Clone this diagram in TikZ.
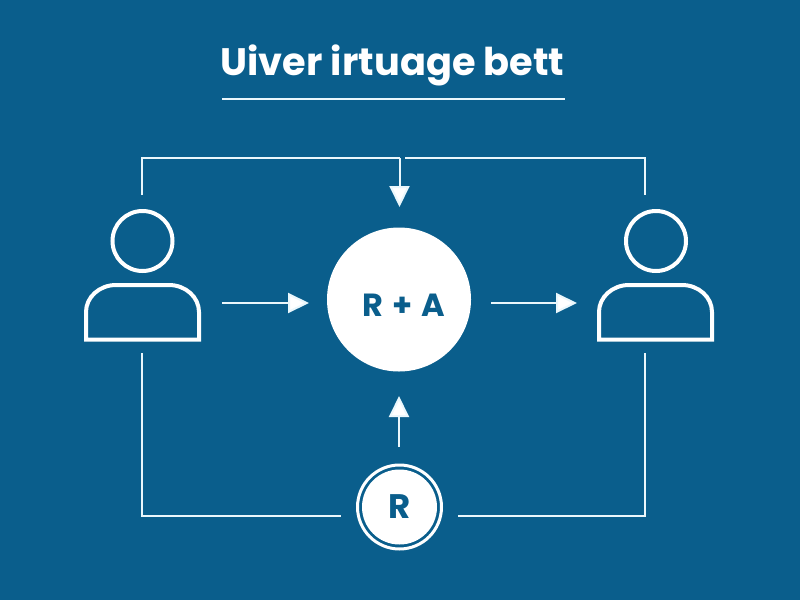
\documentclass[tikz,border=0pt]{standalone}
\usepackage{fontspec}
\setmainfont{Poppins}
\usetikzlibrary{arrows.meta,calc}
\definecolor{bg}{HTML}{0A5E8C}
\definecolor{ink}{HTML}{EAF7FC}
\tikzset{
  x=1pt,y=-1pt,
  wire/.style={draw=ink,line width=2pt},
  flow/.style={wire,-{Triangle[length=21pt,width=20pt,fill=white]}},
  icon/.style={draw=white,line width=4pt,line join=miter},
  head/.style={circle,icon,minimum size=60pt,inner sep=0pt},
  hub/.style={circle,fill=white,minimum size=144pt,inner sep=0pt,text=bg,font=\bfseries\fontsize{32}{32}\selectfont},
  ringdisc/.style={circle,fill=white,minimum size=75pt,inner sep=0pt,text=bg,font=\bfseries\fontsize{34}{34}\selectfont},
  ringout/.style={circle,draw=white,line width=3pt,minimum size=84pt,inner sep=0pt},
  titletext/.style={text=white,font=\bfseries\fontsize{38.3}{40}\selectfont,inner sep=0pt,anchor=base},
}
\begin{document}
\begin{tikzpicture}
\useasboundingbox (0,0) rectangle (800,600);
\fill[bg] (0,0) rectangle (800,600);
% title
\node[titletext] (title) at (392.5,75) {Uiver irtuage bett};
\coordinate (ruleL) at (222,98.5);
\coordinate (ruleR) at (565,98.5);
\draw[wire] (ruleL) -- (ruleR);
% people
\node[head] (headL) at (142.5,241) {};
\node[head] (headR) at (656,241) {};
\draw[icon] (86,339.5) -- (86,312) arc[start angle=180,end angle=270,x radius=30,y radius=27] -- (169,285) arc[start angle=270,end angle=360,x radius=30,y radius=27] -- (199,339.5) -- cycle;
\draw[icon] (599,339.5) -- (599,312) arc[start angle=180,end angle=270,x radius=30,y radius=27] -- (682,285) arc[start angle=270,end angle=360,x radius=30,y radius=27] -- (712,339.5) -- cycle;
% hub and R
\node[hub] (hub) at (399,299.5) {\hspace*{10pt}\raisebox{-16.5pt}[0pt][0pt]{R\;+\;A}};
\node[ringdisc] (rdisc) at (399.5,507) {R};
\node[ringout] (rring) at (399.5,507) {};
% connector ends
\coordinate (topL) at (142,195);
\coordinate (topR) at (645,195);
\coordinate (botL) at (142,353);
\coordinate (botR) at (645,353);
\coordinate (cornTL) at (142,158);
\coordinate (cornTR) at (645,158);
\coordinate (drop) at (399.5,158);
\coordinate (gapR) at (405,158);
\coordinate (tipTop) at (399.5,207);
\coordinate (inA) at (222,303);
\coordinate (inB) at (309,303);
\coordinate (outA) at (491,303);
\coordinate (outB) at (577,303);
\coordinate (upA) at (399,447);
\coordinate (upB) at (399,396);
\coordinate (rL) at (341,516);
\coordinate (rR) at (458,516);
\coordinate (cornBL) at (142,516);
\coordinate (cornBR) at (645,516);
% connectors
\draw[wire] (topL) -- (cornTL) -- (drop);
\draw[flow] (drop) -- (tipTop);
\draw[wire] (gapR) -- (cornTR) -- (topR);
\draw[flow] (inA) -- (inB);
\draw[flow] (outA) -- (outB);
\draw[flow] (upA) -- (upB);
\draw[wire] (botL) -- (cornBL) -- (rL);
\draw[wire] (rR) -- (cornBR) -- (botR);
\end{tikzpicture}
\end{document}
